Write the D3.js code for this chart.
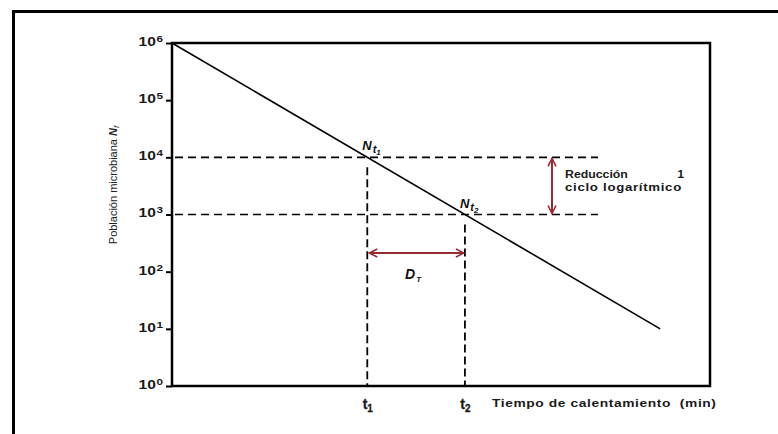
<!DOCTYPE html>
<html>
<head>
<meta charset="utf-8">
<script src="https://cdn.jsdelivr.net/npm/d3@7"></script>
<style>
  html, body { margin: 0; padding: 0; background: #fff; }
  svg { display: block; font-family: "Liberation Sans", Arial, sans-serif; }
  text { white-space: pre; }
</style>
</head>
<body>
<svg id="chart" width="778" height="434"></svg>
<script>
// Survivor curve: log10 population falls one cycle per D_T of heating
const times = [0, 5];                 // heating time (arbitrary units of D_T)
const population = [1e6, 1e1];       // N_f at the start and end of the line
const yTicks = [1, 10, 100, 1000, 10000, 100000, 1000000];
const yTickExponents = ["0", "1", "2", "3", "4", "5", "6"];
const markTimes = [2, 3];             // t1, t2
const markPopulations = [1e4, 1e3];   // N_t1, N_t2
const xTickLabels = ["1", "2"];       // subscripts of t1, t2

const svg = d3.select("#chart");
const red = "#9a2a33";
const wide = 1.3;                     // horizontal stretch of the bold lettering

// Outer frame (runs off the right and bottom edges)
svg.append("rect")
  .attr("x", 13.5).attr("y", 11.5)
  .attr("width", 800).attr("height", 500)
  .attr("fill", "none").attr("stroke", "#000").attr("stroke-width", 3);

const plotLeft = 172, plotRight = 710, plotTop = 43, plotBottom = 386;
const x = d3.scaleLinear().domain([0, 5.51]).range([plotLeft, plotRight]);
const y = d3.scaleLog().domain([1, 1e6]).range([plotBottom, plotTop]);

const defs = svg.append("defs");
defs.append("marker")
  .attr("id", "head").attr("viewBox", "0 0 10 10")
  .attr("refX", 9).attr("refY", 5)
  .attr("markerWidth", 10).attr("markerHeight", 10)
  .attr("markerUnits", "userSpaceOnUse")
  .attr("orient", "auto-start-reverse")
  .append("path").attr("d", "M1,1 L9,5 L1,9")
  .attr("fill", "none").attr("stroke", red).attr("stroke-width", 1.6);

// Y axis (log scale)
const yAxis = svg.append("g")
  .attr("transform", `translate(${plotLeft},0)`)
  .call(d3.axisLeft(y).tickValues(yTicks).tickSize(6).tickPadding(4).tickFormat(() => ""));
yAxis.select(".domain").remove();
yAxis.selectAll(".tick line").attr("stroke", "#000").attr("stroke-width", 2);
yAxis.selectAll(".tick text").each(function(d, i) {
  const t = d3.select(this)
    .attr("fill", "#1a1a1a").attr("font-size", 12).attr("font-weight", "bold")
    .attr("text-anchor", "end").attr("dy", "0.2em")
    .attr("x", -9 / wide).attr("transform", `scale(${wide},1)`);
  t.append("tspan").text("10");
  t.append("tspan").attr("dx", 0.5).attr("dy", "-0.45em").attr("font-size", 9).text(yTickExponents[i]);
});

// X axis with t1, t2 marks
const xAxis = svg.append("g")
  .attr("transform", `translate(0,${plotBottom})`)
  .call(d3.axisBottom(x).tickValues(markTimes).tickSize(0).tickPadding(13).tickFormat(() => ""));
xAxis.select(".domain").remove();
xAxis.selectAll(".tick text").each(function(d, i) {
  const t = d3.select(this)
    .attr("fill", "#1a1a1a").attr("font-size", 14).attr("font-weight", "bold")
    .attr("stroke", "#1a1a1a").attr("stroke-width", 0.3);
  t.append("tspan").text("t");
  t.append("tspan").attr("dy", "0.3em").attr("font-size", 10).text(xTickLabels[i]);
});

// Plot frame
svg.append("rect")
  .attr("x", plotLeft).attr("y", plotTop)
  .attr("width", plotRight - plotLeft).attr("height", plotBottom - plotTop)
  .attr("fill", "none").attr("stroke", "#000").attr("stroke-width", 2.5);

// Guide lines
markPopulations.forEach(p => {
  svg.append("line")
    .attr("x1", plotLeft + 3).attr("x2", 598)
    .attr("y1", y(p)).attr("y2", y(p))
    .attr("stroke", "#000").attr("stroke-width", 1.6).attr("stroke-dasharray", "8,5");
});
markTimes.forEach((t, i) => {
  svg.append("line")
    .attr("x1", x(t)).attr("x2", x(t))
    .attr("y1", y(markPopulations[i]) + 10).attr("y2", plotBottom)
    .attr("stroke", "#000").attr("stroke-width", 1.8).attr("stroke-dasharray", "8,4");
});

// Survivor line
svg.append("path")
  .datum(times.map((t, i) => [t, population[i]]))
  .attr("d", d3.line().x(d => x(d[0])).y(d => y(d[1])))
  .attr("fill", "none").attr("stroke", "#000").attr("stroke-width", 1.6);

// One log-cycle arrow
svg.append("line")
  .attr("x1", 552).attr("x2", 552)
  .attr("y1", y(markPopulations[0]) + 1).attr("y2", y(markPopulations[1]) - 1)
  .attr("stroke", red).attr("stroke-width", 2)
  .attr("marker-start", "url(#head)").attr("marker-end", "url(#head)");

// D_T arrow
svg.append("line")
  .attr("x1", x(markTimes[0]) + 2).attr("x2", x(markTimes[1]) - 1)
  .attr("y1", 253).attr("y2", 253)
  .attr("stroke", red).attr("stroke-width", 2)
  .attr("marker-start", "url(#head)").attr("marker-end", "url(#head)");

// Point labels N_t1, N_t2
markTimes.forEach((t, i) => {
  const lbl = svg.append("text")
    .attr("x", x(t) - 5).attr("y", y(markPopulations[i]) - 7)
    .attr("font-size", 13).attr("font-weight", "bold").attr("font-style", "italic").attr("fill", "#111");
  lbl.append("tspan").text("N");
  lbl.append("tspan").attr("dx", 1).attr("dy", 3).attr("font-size", 11).text("t");
  lbl.append("tspan").attr("dy", 2).attr("font-size", 8).text(xTickLabels[i]);
});

const dt = svg.append("text")
  .attr("x", 405).attr("y", 279)
  .attr("font-size", 14).attr("font-weight", "bold").attr("font-style", "italic").attr("fill", "#111");
dt.append("tspan").text("D");
dt.append("tspan").attr("dx", 1).attr("dy", 3).attr("font-size", 8).text("T");

// Reduction note
const note = svg.append("g").attr("font-size", 11).attr("font-weight", "bold").attr("fill", "#1a1a1a");
note.append("text").attr("transform", "translate(565,178) scale(1.12,1)").text("Reducción");
note.append("text").attr("transform", "translate(684,178) scale(1.12,1)").attr("text-anchor", "end").text("1");
note.append("text").attr("transform", "translate(565,191) scale(1.2,1)").attr("letter-spacing", 0.6).text("ciclo logarítmico");

// Axis titles
svg.append("text")
  .attr("transform", `translate(492,407) scale(1.2,1)`)
  .attr("font-size", 11.5).attr("font-weight", "bold").attr("fill", "#1a1a1a")
  .attr("letter-spacing", 0.5)
  .text("Tiempo de calentamiento  (min)");

const yl = svg.append("text")
  .attr("transform", `translate(117,${(122 + 248) / 2}) rotate(-90)`)
  .attr("text-anchor", "middle")
  .attr("font-size", 11).attr("fill", "#222");
yl.append("tspan").text("Población microbiana ");
yl.append("tspan").attr("font-style", "italic").attr("font-weight", "bold").text("N");
yl.append("tspan").attr("font-style", "italic").attr("font-size", 8).attr("dy", 2).text("f");
</script>
</body>
</html>
